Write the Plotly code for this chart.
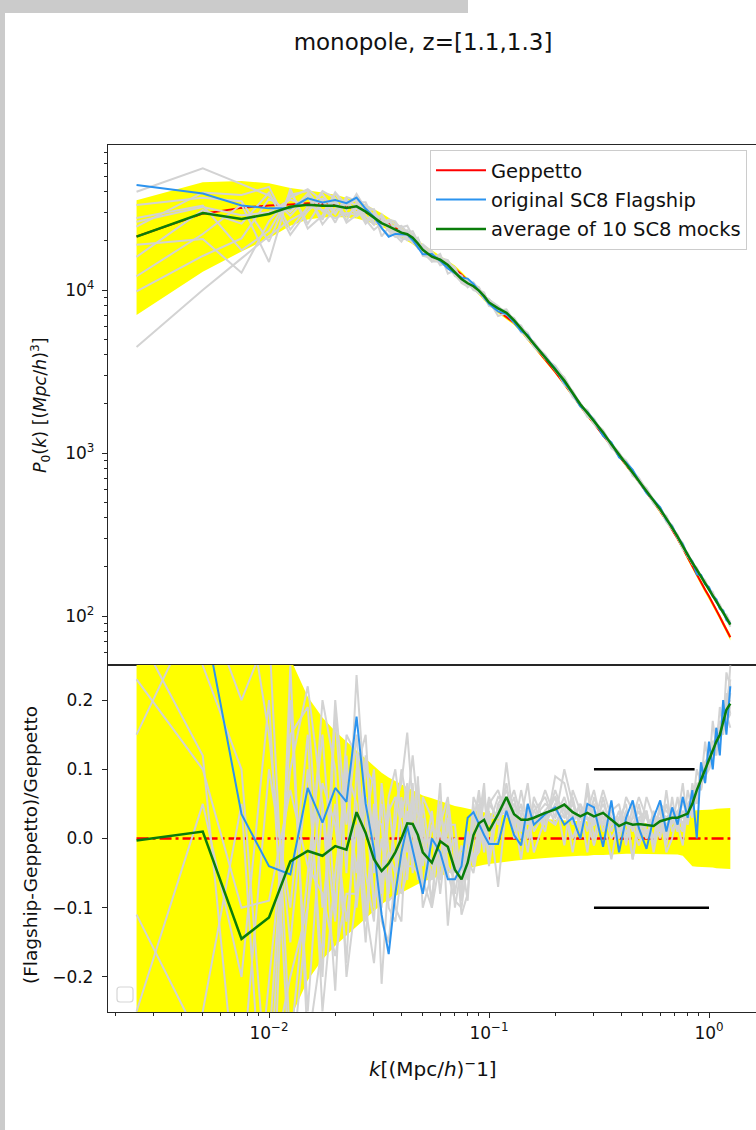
import math
import plotly.graph_objects as go

# ---------------- data ----------------
K = [0.0025, 0.005, 0.0075, 0.01, 0.0125, 0.015, 0.0175, 0.02, 0.0225, 0.025,
     0.0275, 0.03, 0.0325, 0.035, 0.0375, 0.04, 0.0425, 0.045, 0.0475, 0.05,
     0.055, 0.06, 0.065, 0.07, 0.075, 0.08, 0.085, 0.09, 0.095, 0.1,
     0.11, 0.12, 0.13, 0.14, 0.15, 0.16, 0.18, 0.2, 0.22, 0.24,
     0.26, 0.28, 0.3, 0.33, 0.36, 0.39, 0.42, 0.45, 0.48, 0.52,
     0.56, 0.6, 0.64, 0.68, 0.72, 0.76, 0.8, 0.84, 0.88, 0.92,
     0.96, 1.0, 1.04, 1.08, 1.12, 1.16, 1.2, 1.25]

P_GEPPETTO = [21300, 29400, 31900, 33000, 33500, 34000, 33700, 33200, 32400, 31400,
              30000, 28500, 27000, 25500, 24000, 22500, 21500, 20500, 19200, 18000,
              16600, 15400, 14400, 13500, 12400, 11400, 10500, 9700, 8950, 8300,
              7450, 6850, 6300, 5650, 5050, 4550, 3750, 3150, 2650, 2250,
              1930, 1700, 1520, 1290, 1100, 960, 850, 746, 665, 575,
              500, 440, 385, 340, 298, 260, 228, 202, 180, 161,
              145, 132, 120, 109, 99, 90, 82, 74]

# relative scatter of the mocks (half width of the yellow band)
SIGMA = [0.67, 0.56, 0.46, 0.37, 0.26, 0.205, 0.175, 0.155, 0.14, 0.127,
         0.115, 0.104, 0.095, 0.088, 0.083, 0.079, 0.074, 0.07, 0.066, 0.062,
         0.058, 0.054, 0.05, 0.047, 0.045, 0.043, 0.041, 0.039, 0.038, 0.037,
         0.035, 0.033, 0.032, 0.031, 0.03, 0.029, 0.028, 0.027, 0.026, 0.026,
         0.025, 0.025, 0.024, 0.024, 0.023, 0.023, 0.022, 0.022, 0.022, 0.022,
         0.022, 0.022, 0.022, 0.022, 0.023, 0.025, 0.032, 0.04, 0.041, 0.041,
         0.042, 0.042, 0.042, 0.043, 0.043, 0.043, 0.044, 0.044]

# (X - Geppetto)/Geppetto
R_FLAGSHIP = [1.07, 0.33, 0.035, -0.04, -0.052, 0.073, 0.023, 0.073, 0.053, 0.176,
              0.05, -0.016, -0.11, -0.167, -0.08, -0.02, 0.018, -0.015, -0.05, -0.08,
              0.0, -0.02, -0.059, -0.059, -0.04, 0.03, 0.038, 0.02, 0.005, -0.008,
              -0.008, 0.04, 0.005, -0.01, 0.05, 0.02, 0.035, 0.045, 0.02, 0.03,
              0.0, 0.05, 0.045, -0.012, 0.055, -0.02, 0.03, 0.055, 0.015, -0.015,
              0.03, 0.055, 0.01, 0.045, 0.02, 0.06, 0.03, 0.07, 0.0, 0.11,
              0.08, 0.14, 0.1, 0.16, 0.12, 0.2, 0.15, 0.22]

R_AVERAGE = [-0.003, 0.010, -0.145, -0.114, -0.033, -0.018, -0.025, -0.011, -0.016, 0.038,
             0.008, -0.030, -0.047, -0.036, -0.020, 0.000, 0.022, 0.021, 0.005, -0.020,
             -0.035, -0.004, -0.012, -0.045, -0.059, -0.035, 0.005, 0.022, 0.027, 0.011,
             0.035, 0.060, 0.035, 0.027, 0.027, 0.030, 0.037, 0.042, 0.049, 0.038,
             0.032, 0.037, 0.032, 0.037, 0.027, 0.018, 0.023, 0.020, 0.021, 0.020,
             0.018, 0.025, 0.027, 0.030, 0.030, 0.033, 0.036, 0.050, 0.070, 0.085,
             0.100, 0.112, 0.128, 0.140, 0.150, 0.168, 0.186, 0.195]

R_MOCK_0 = [0.88, 0.90, 0.40, 0.15, -0.15, 0.10, -0.20, 0.18, -0.05, 0.236,
            0.05, -0.10, 0.0, -0.08, 0.05, 0.08, 0.153, 0.05, -0.03, 0.02,
            -0.06, 0.08, -0.126, -0.02, -0.09, -0.04, 0.03, 0.06, 0.0, 0.05,
            0.07, 0.03, 0.06, 0.01, 0.05, 0.02, 0.07, 0.03, 0.06, 0.02,
            0.05, 0.01, 0.06, 0.02, 0.05, 0.00, 0.04, 0.01, 0.05, 0.00,
            0.04, 0.01, 0.05, 0.02, 0.06, 0.01, 0.07, 0.04, 0.10, 0.08,
            0.14, 0.10, 0.17, 0.13, 0.19, 0.16, 0.24, 0.22]
R_MOCK_1 = [0.56, 0.25, 0.10, -0.40, 0.20, -0.25, 0.05, -0.22, 0.10, 0.05,
            -0.12, 0.05, -0.21, -0.05, 0.02, 0.10, 0.05, 0.12, 0.04, -0.08,
            0.02, -0.03, 0.05, -0.10, -0.04, 0.0, -0.04, 0.02, 0.07, -0.02,
            0.00, 0.11, 0.02, 0.05, 0.00, 0.06, 0.02, 0.07, 0.03, 0.06,
            0.01, 0.07, 0.00, 0.06, 0.01, 0.04, -0.01, 0.05, 0.00, 0.04,
            -0.01, 0.05, 0.00, 0.06, 0.01, 0.06, 0.02, 0.08, 0.05, 0.11,
            0.08, 0.13, 0.11, 0.16, 0.13, 0.20, 0.17, 0.25]
R_MOCK_2 = [0.30, 0.12, -0.45, -0.30, 0.15, 0.19, -0.10, 0.05, -0.18, 0.10,
            0.15, -0.05, 0.05, -0.10, -0.12, -0.05, 0.0, 0.03, 0.08, 0.0,
            -0.09, 0.04, -0.02, 0.0, -0.11, -0.08, 0.05, -0.02, 0.03, 0.04,
            -0.07, 0.05, 0.03, -0.03, 0.04, -0.02, 0.03, 0.06, -0.01, 0.07,
            0.04, -0.02, 0.05, 0.03, -0.03, 0.03, 0.05, -0.03, 0.03, 0.04,
            -0.02, 0.03, -0.01, 0.04, 0.02, -0.01, 0.05, 0.03, 0.08, 0.07,
            0.11, 0.12, 0.12, 0.16, 0.14, 0.18, 0.20, 0.19]
R_MOCK_3 = [0.15, 0.35, 0.20, 0.30, -0.30, -0.05, 0.15, -0.10, 0.12, -0.10,
            0.02, 0.10, -0.08, 0.05, -0.03, -0.08, -0.05, 0.02, -0.06, 0.06,
            0.03, -0.06, 0.03, -0.08, -0.02, -0.06, 0.0, 0.05, -0.01, 0.03,
            0.03, 0.08, 0.01, 0.07, 0.02, 0.05, 0.01, 0.09, 0.08, 0.03,
            0.00, 0.08, 0.02, 0.07, 0.03, 0.01, 0.06, 0.04, 0.00, 0.06,
            0.03, 0.00, 0.07, 0.01, 0.03, 0.08, 0.02, 0.06, 0.06, 0.10,
            0.09, 0.13, 0.12, 0.15, 0.17, 0.16, 0.21, 0.18]
R_MOCK_4 = [-0.11, -0.30, -0.60, -0.20, 0.10, 0.22, 0.05, -0.12, 0.15, 0.12,
            -0.10, -0.18, -0.05, 0.06, 0.10, 0.03, 0.08, -0.04, 0.02, -0.10,
            -0.05, 0.02, 0.06, -0.03, -0.08, 0.01, -0.03, 0.03, 0.08, -0.03,
            0.05, 0.04, 0.07, 0.03, -0.02, 0.04, 0.06, 0.02, 0.05, -0.02,
            0.04, 0.03, -0.01, 0.04, 0.00, 0.02, 0.03, -0.03, 0.03, 0.01,
            0.02, 0.04, -0.02, 0.00, 0.04, 0.02, 0.04, 0.05, 0.07, 0.09,
            0.10, 0.11, 0.14, 0.13, 0.16, 0.18, 0.17, 0.21]
R_MOCK_5 = [-0.25, 0.05, -0.20, 0.20, -0.35, -0.10, 0.20, 0.10, -0.20, -0.08,
            0.10, 0.08, -0.12, -0.15, -0.05, 0.06, -0.02, 0.08, -0.05, 0.03,
            -0.10, 0.05, -0.04, -0.06, -0.03, -0.09, 0.04, -0.01, 0.02, 0.06,
            0.02, 0.06, 0.00, 0.03, 0.08, 0.01, 0.04, 0.03, 0.10, 0.05,
            0.02, 0.04, 0.07, 0.01, 0.04, 0.05, 0.00, 0.03, 0.06, 0.03,
            0.00, 0.05, 0.04, 0.03, 0.01, 0.06, 0.03, 0.04, 0.08, 0.07,
            0.11, 0.10, 0.13, 0.15, 0.14, 0.17, 0.19, 0.23]
R_MOCK_6 = [-0.43, -0.25, 0.05, -0.55, 0.25, -0.30, -0.15, 0.20, 0.02, 0.15,
            -0.05, -0.12, 0.08, -0.02, -0.10, -0.12, 0.04, -0.05, 0.09, -0.04,
            0.04, -0.08, 0.02, 0.02, -0.07, -0.02, 0.02, 0.07, 0.01, -0.01,
            0.04, 0.07, 0.04, 0.00, 0.03, 0.04, 0.02, 0.05, 0.04, 0.00,
            0.03, 0.05, 0.04, 0.02, 0.03, 0.01, 0.04, 0.02, -0.01, 0.02,
            0.03, 0.01, 0.03, 0.04, 0.02, 0.01, 0.05, 0.06, 0.06, 0.09,
            0.09, 0.12, 0.13, 0.12, 0.16, 0.15, 0.18, 0.16]
R_MOCK_7 = [-0.54, -0.45, -0.35, 0.10, -0.10, 0.15, -0.25, -0.05, 0.08, -0.05,
            0.12, -0.02, -0.10, 0.04, 0.06, 0.02, -0.06, 0.06, -0.02, 0.05,
            -0.04, 0.01, -0.05, -0.09, -0.10, -0.03, -0.05, 0.0, 0.06, 0.02,
            0.06, 0.05, 0.03, 0.02, 0.01, 0.03, 0.05, 0.04, 0.03, 0.05,
            0.02, 0.03, 0.02, 0.05, 0.02, 0.03, 0.01, 0.02, 0.04, 0.01,
            0.02, 0.03, 0.02, 0.03, 0.04, 0.03, 0.03, 0.05, 0.07, 0.08,
            0.10, 0.12, 0.13, 0.14, 0.14, 0.17, 0.18, 0.19]
R_MOCK_8 = [-0.79, -0.66, -0.51, -0.35, -0.20, -0.10, 0.08, 0.02, -0.12, 0.02,
            -0.15, 0.03, 0.02, -0.09, -0.08, -0.04, 0.07, -0.02, 0.03, -0.08,
            0.0, -0.04, 0.0, -0.05, -0.01, -0.05, 0.06, 0.04, -0.02, 0.05,
            0.03, 0.04, 0.05, 0.02, 0.03, 0.03, 0.03, 0.02, 0.05, 0.04,
            0.03, 0.04, 0.02, 0.03, 0.04, 0.02, 0.01, 0.02, 0.02, 0.00,
            0.03, 0.02, 0.02, 0.03, 0.03, 0.02, 0.04, 0.04, 0.06, 0.08,
            0.09, 0.10, 0.12, 0.13, 0.14, 0.16, 0.17, 0.18]
R_MOCK_9 = [0.23, 0.10, -0.10, -0.09, 0.07, -0.04, -0.08, -0.17, -0.08, -0.08,
            0.06, -0.09, -0.06, -0.02, -0.05, 0.0, -0.04, -0.04, -0.05, -0.06,
            -0.10, -0.03, -0.05, -0.04, -0.04, 0.01, -0.03, -0.02, 0.03, -0.04,
            0.05, 0.07, 0.04, 0.04, 0.04, 0.02, 0.04, 0.06, 0.04, 0.03,
            0.05, 0.03, 0.03, 0.04, 0.02, 0.03, 0.02, 0.03, 0.03, 0.03,
            0.02, 0.04, 0.03, 0.04, 0.02, 0.04, 0.03, 0.05, 0.07, 0.09,
            0.11, 0.11, 0.14, 0.14, 0.15, 0.18, 0.19, 0.20]
MOCKS = [R_MOCK_0, R_MOCK_1, R_MOCK_2, R_MOCK_3, R_MOCK_4,
         R_MOCK_5, R_MOCK_6, R_MOCK_7, R_MOCK_8, R_MOCK_9]

BAR_UP_K = [0.3, 0.86]
BAR_UP_R = [0.1, 0.1]
BAR_LO_K = [0.3, 1.0]
BAR_LO_R = [-0.1, -0.1]

for arr in [P_GEPPETTO, SIGMA, R_FLAGSHIP, R_AVERAGE] + MOCKS:
    assert len(arr) == len(K), len(arr)

# ---------------- layout helpers ----------------
W, H = 756, 1130
FONT = "DejaVu Sans"
AXC = "#262626"
GRAY = "#d3d3d3"
BLUE = "#2b93ef"
GREEN = "#0a7d0a"

def fx(px):
    return px / W

def fy(py):
    return 1 - py / H

X_LEFT, X_RIGHT = 108, 756
TOP_T, TOP_B = 145, 665
BOT_T, BOT_B = 665, 1012
LX0 = -2 - (269 - X_LEFT) / 220.0
LX1 = (X_RIGHT - 709) / 220.0
LY_TOP = 4 + (290 - TOP_T) / 163.0
LY_BOT = 2 - (TOP_B - 616) / 163.0

fig = go.Figure()

def band(yaxis, xaxis, lo, hi):
    fig.add_trace(go.Scatter(x=K, y=lo, mode="lines", line=dict(width=0, color="yellow"),
                             xaxis=xaxis, yaxis=yaxis, showlegend=False, hoverinfo="skip"))
    fig.add_trace(go.Scatter(x=K, y=hi, mode="lines", line=dict(width=0, color="yellow"),
                             fill="tonexty", fillcolor="yellow",
                             xaxis=xaxis, yaxis=yaxis, showlegend=False, hoverinfo="skip"))

# ---- top panel ----
band("y", "x", [p * (1 - s) for p, s in zip(P_GEPPETTO, SIGMA)],
     [p * (1 + s) for p, s in zip(P_GEPPETTO, SIGMA)])
fig.add_trace(go.Scatter(x=K, y=P_GEPPETTO, mode="lines", name="Geppetto",
                         line=dict(color="red", width=2), xaxis="x", yaxis="y",
                         legendgroup="a"))
for m in MOCKS:
    fig.add_trace(go.Scatter(x=K, y=[p * (1 + r) for p, r in zip(P_GEPPETTO, m)], mode="lines",
                             line=dict(color=GRAY, width=2), xaxis="x", yaxis="y",
                             showlegend=False, hoverinfo="skip"))
fig.add_trace(go.Scatter(x=K, y=[p * (1 + r) for p, r in zip(P_GEPPETTO, R_FLAGSHIP)],
                         mode="lines", name="original SC8 Flagship",
                         line=dict(color=BLUE, width=2), xaxis="x", yaxis="y",
                         legendgroup="b"))
fig.add_trace(go.Scatter(x=K, y=[p * (1 + r) for p, r in zip(P_GEPPETTO, R_AVERAGE)],
                         mode="lines", name="average of 10 SC8 mocks",
                         line=dict(color=GREEN, width=2.5), xaxis="x", yaxis="y",
                         legendgroup="c"))

# ---- bottom panel ----
band("y2", "x2", [-s for s in SIGMA], SIGMA)
fig.add_trace(go.Scatter(x=K, y=[(p - p) / p for p in P_GEPPETTO], mode="lines",
                         line=dict(color="red", width=2.5, dash="12px,4px,3px,4px"),
                         xaxis="x2", yaxis="y2", showlegend=False))
for m in MOCKS:
    fig.add_trace(go.Scatter(x=K, y=m, mode="lines", line=dict(color=GRAY, width=2),
                             xaxis="x2", yaxis="y2", showlegend=False, hoverinfo="skip"))
fig.add_trace(go.Scatter(x=K, y=R_FLAGSHIP, mode="lines", line=dict(color=BLUE, width=2),
                         xaxis="x2", yaxis="y2", showlegend=False))
fig.add_trace(go.Scatter(x=K, y=R_AVERAGE, mode="lines", line=dict(color=GREEN, width=2.5),
                         xaxis="x2", yaxis="y2", showlegend=False))
fig.add_trace(go.Scatter(x=BAR_UP_K, y=BAR_UP_R, mode="lines", line=dict(color="black", width=2.5),
                         xaxis="x2", yaxis="y2", showlegend=False))
fig.add_trace(go.Scatter(x=BAR_LO_K, y=BAR_LO_R, mode="lines", line=dict(color="black", width=2.5),
                         xaxis="x2", yaxis="y2", showlegend=False))

minor_k = [m * 10 ** e for e in range(-3, 1) for m in range(2, 10)]
minor_p = [m * 10 ** e for e in range(1, 5) for m in range(2, 10)]
tickfont = dict(family=FONT, size=17, color="#111")

common_line = dict(showline=True, linecolor=AXC, linewidth=1.3, showgrid=False, zeroline=False)

fig.update_layout(
    width=W, height=H, margin=dict(l=0, r=0, t=0, b=0),
    paper_bgcolor="white", plot_bgcolor="white",
    font=dict(family=FONT, color="#111"),
    title=dict(text="monopole, z=[1.1,1.3]", x=fx(423), y=fy(42), xanchor="center",
               yanchor="middle", font=dict(family=FONT, size=23, color="#111")),
    xaxis=dict(type="log", range=[LX0, LX1], domain=[fx(X_LEFT), fx(X_RIGHT)], anchor="y",
               showticklabels=False, ticks="", mirror=True, **common_line),
    yaxis=dict(type="log", range=[LY_BOT, LY_TOP], domain=[fy(TOP_B), fy(TOP_T)], anchor="x",
               ticks="outside", ticklen=5, tickwidth=1.2, tickcolor=AXC, ticklabelstandoff=4,
               tickmode="array", tickvals=[100, 1000, 10000],
               ticktext=["10<sup>2</sup>", "10<sup>3</sup>", "10<sup>4</sup>"], tickfont=tickfont,
               minor=dict(tickmode="array", tickvals=minor_p, ticks="outside", ticklen=3,
                          tickwidth=1, tickcolor=AXC, showgrid=False),
               **common_line),
    xaxis2=dict(type="log", range=[LX0, LX1], domain=[fx(X_LEFT), fx(X_RIGHT)], anchor="y2",
                ticks="outside", ticklen=5, tickwidth=1.2, tickcolor=AXC, mirror=True,
                tickmode="array", tickvals=[0.01, 0.1, 1],
                ticktext=["10<sup>−2</sup>", "10<sup>−1</sup>", "10<sup>0</sup>"], tickfont=tickfont,
                minor=dict(tickmode="array", tickvals=minor_k, ticks="outside", ticklen=3,
                           tickwidth=1, tickcolor=AXC, showgrid=False),
                **common_line),
    yaxis2=dict(range=[-0.2507, 0.2507], domain=[fy(BOT_B), fy(BOT_T)], anchor="x2",
                ticks="outside", ticklen=5, tickwidth=1.2, tickcolor=AXC, ticklabelstandoff=5,
                tickmode="array", tickvals=[-0.2, -0.1, 0.0, 0.1, 0.2],
                ticktext=["−0.2", "−0.1", "0.0", "0.1", "0.2"], tickfont=tickfont,
                **common_line),
    legend=dict(x=fx(430), y=fy(150), xanchor="left", yanchor="top",
                bgcolor="rgba(255,255,255,0.85)", bordercolor="#cccccc", borderwidth=1,
                font=dict(family=FONT, size=19.5, color="#111"), itemwidth=50,
                traceorder="grouped", tracegroupgap=1),
    showlegend=True,
)

# axis titles
fig.add_annotation(text="<i>P</i><sub>0</sub>(<i>k</i>) [(<i>Mpc</i>/<i>h</i>)<sup>3</sup>]",
                   x=fx(40), y=fy(405), xref="paper", yref="paper", showarrow=False,
                   xanchor="center", yanchor="middle",
                   textangle=-90, font=dict(family=FONT, size=17.5, color="#111"))
fig.add_annotation(text="(Flagship-Geppetto)/Geppetto",
                   x=fx(30), y=fy(845), xref="paper", yref="paper", showarrow=False,
                   xanchor="center", yanchor="middle",
                   textangle=-90, font=dict(family=FONT, size=18.5, color="#111"))
fig.add_annotation(text="<i>k</i>[(Mpc/<i>h</i>)<sup>−</sup>1]",
                   x=fx(433), y=fy(1068), xref="paper", yref="paper", showarrow=False,
                   xanchor="center", yanchor="middle",
                   font=dict(family=FONT, size=20, color="#111"))

# screenshot border (gray strips at left and top)
fig.add_shape(type="rect", xref="paper", yref="paper", x0=0, x1=fx(5), y0=0, y1=1,
              fillcolor="#cbcbcb", line=dict(width=0), layer="below")
fig.add_shape(type="rect", xref="paper", yref="paper", x0=0, x1=fx(468), y0=fy(13), y1=1,
              fillcolor="#cbcbcb", line=dict(width=0), layer="below")

# empty legend box of the lower panel
bx0, bx1, by0, by1, rr = 117, 133, 987, 1002, 3
path = (f"M {fx(bx0 + rr)} {fy(by0)} L {fx(bx1 - rr)} {fy(by0)} "
        f"Q {fx(bx1)} {fy(by0)} {fx(bx1)} {fy(by0 + rr)} L {fx(bx1)} {fy(by1 - rr)} "
        f"Q {fx(bx1)} {fy(by1)} {fx(bx1 - rr)} {fy(by1)} L {fx(bx0 + rr)} {fy(by1)} "
        f"Q {fx(bx0)} {fy(by1)} {fx(bx0)} {fy(by1 - rr)} L {fx(bx0)} {fy(by0 + rr)} "
        f"Q {fx(bx0)} {fy(by0)} {fx(bx0 + rr)} {fy(by0)} Z")
fig.add_shape(type="path", path=path, xref="paper", yref="paper",
              line=dict(color="#d6d6d6", width=1.2), fillcolor="rgba(255,255,255,0.8)")

fig.write_html("out.html")
